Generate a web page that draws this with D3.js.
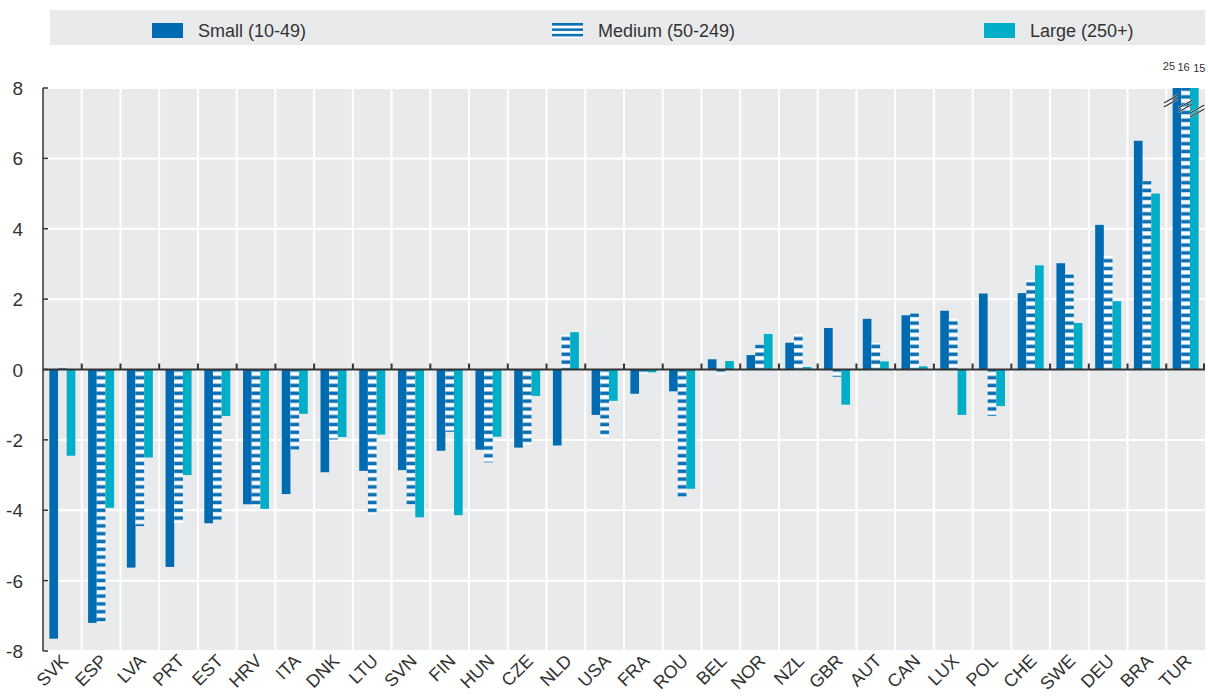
<!DOCTYPE html>
<html>
<head>
<meta charset="utf-8">
<script src="https://cdn.jsdelivr.net/npm/d3@7"></script>
<style>
  body { margin: 0; background: #fff; }
  svg { display: block; font-family: "Liberation Sans Narrow", "Arial Narrow", "Liberation Sans", Arial, sans-serif; }
  .y-label { fill: #333; font-size: 19px; }
  .x-label { fill: #333; font-size: 18px; }
  .legend-label { fill: #333; font-size: 18px; }
  .cut-label { fill: #333; font-size: 11px; font-family: "Liberation Sans", Arial, sans-serif; }
</style>
</head>
<body>
<svg id="chart" width="1208" height="699"></svg>
<script>
// countries, ordered as in the chart
const countries = ["SVK", "ESP", "LVA", "PRT", "EST", "HRV", "ITA", "DNK", "LTU", "SVN",
  "FIN", "HUN", "CZE", "NLD", "USA", "FRA", "ROU", "BEL", "NOR", "NZL",
  "GBR", "AUT", "CAN", "LUX", "POL", "CHE", "SWE", "DEU", "BRA", "TUR"];

const seriesNames = ["Small (10-49)", "Medium (50-249)", "Large (250+)"];

const small = [-7.65, -7.2, -5.63, -5.61, -4.37, -3.83, -3.54, -2.92, -2.88, -2.86,
  -2.31, -2.28, -2.22, -2.16, -1.29, -0.69, -0.62, 0.29, 0.41, 0.76,
  1.18, 1.44, 1.54, 1.67, 2.16, 2.17, 3.02, 4.11, 6.5, 25];
const medium = [0.1, -7.2, -4.45, -4.36, -4.27, -3.89, -2.28, -1.99, -4.11, -3.84,
  -1.77, -2.64, -2.14, 0.98, -1.93, -0.13, -3.62, -0.15, 0.71, 1.04,
  -0.21, 0.75, 1.61, 1.45, -1.32, 2.55, 2.74, 3.23, 5.36, 16];
const large = [-2.45, -3.93, -2.5, -3.0, -1.32, -3.96, -1.26, -1.92, -1.85, -4.2,
  -4.14, -1.91, -0.75, 1.06, -0.89, -0.08, -3.39, 0.24, 1.01, 0.07,
  -1.0, 0.23, 0.09, -1.29, -1.04, 2.96, 1.32, 1.94, 5.0, 15];

const yTicks = [-8, -6, -4, -2, 0, 2, 4, 6, 8];

const colors = ["#006bb0", "url(#hatch)", "#00aec7"];
const values = [small, medium, large];

const svg = d3.select("#chart");

const plotLeft = 43, plotRight = 1205, plotTop = 88, plotBottom = 651;

const x = d3.scaleBand().domain(countries).range([plotLeft, plotRight]);
const y = d3.scaleLinear().domain([-8, 8]).range([plotBottom, plotTop]);
const bw = x.bandwidth();
const xs = d3.scaleBand().domain(d3.range(3)).range([bw / 2 - 13, bw / 2 + 13]);

// hatch pattern for the medium series
const defs = svg.append("defs");
const pat = defs.append("pattern")
  .attr("id", "hatch")
  .attr("patternUnits", "userSpaceOnUse")
  .attr("width", 12).attr("height", 7.8);
pat.append("rect").attr("width", 12).attr("height", 7.8).attr("fill", "#fff");
pat.append("rect").attr("y", 1.5).attr("width", 12).attr("height", 3.6).attr("fill", "#0a6fb3");

// legend
svg.append("rect")
  .attr("x", 50).attr("y", 10).attr("width", 1155).attr("height", 35)
  .attr("fill", "#e9eaec");
const legendX = [152, 552, 984];
seriesNames.forEach((name, i) => {
  const g = svg.append("g").attr("transform", `translate(${legendX[i]},23)`);
  if (i === 1) {
    const lp = defs.append("pattern")
      .attr("id", "hatchLegend")
      .attr("patternUnits", "userSpaceOnUse")
      .attr("width", 32).attr("height", 5.4);
    lp.append("rect").attr("width", 32).attr("height", 5.4).attr("fill", "#fff");
    lp.append("rect").attr("y", 0).attr("width", 32).attr("height", 2.6).attr("fill", "#0a6fb3");
    g.append("rect").attr("width", 31).attr("height", 15).attr("fill", "url(#hatchLegend)");
  } else {
    g.append("rect").attr("width", 31).attr("height", 15).attr("fill", colors[i]);
  }
  g.append("text")
    .attr("class", "legend-label")
    .attr("x", 46).attr("y", 14)
    .text(name);
});

// plot background
svg.append("rect")
  .attr("x", plotLeft).attr("y", plotTop)
  .attr("width", plotRight - plotLeft).attr("height", plotBottom - plotTop)
  .attr("fill", "#e9eaec");

// gridlines
svg.append("g").selectAll("line")
  .data(yTicks.filter(d => d !== 0))
  .join("line")
  .attr("x1", plotLeft).attr("x2", plotRight)
  .attr("y1", d => y(d)).attr("y2", d => y(d))
  .attr("stroke", "#fff").attr("stroke-width", 2);

svg.append("g").selectAll("line")
  .data(countries.slice(1))
  .join("line")
  .attr("x1", d => x(d)).attr("x2", d => x(d))
  .attr("y1", plotTop).attr("y2", plotBottom)
  .attr("stroke", "#fff").attr("stroke-width", 2);

// bars
const bars = svg.append("g");
values.forEach((vals, s) => {
  bars.selectAll(null)
    .data(countries.map((c, i) => ({ c, v: vals[i] })))
    .join("rect")
    .attr("x", d => x(d.c) + xs(s))
    .attr("width", xs.bandwidth())
    .attr("y", d => y(Math.max(0, Math.min(8, d.v))))
    .attr("height", d => Math.abs(y(Math.min(8, d.v)) - y(0)))
    .attr("fill", colors[s]);
});

// truncated bars: break marks and value labels
const cut = countries.map((c, i) => values.map((vals, s) => ({ c, s, v: vals[i] })))
  .flat().filter(d => d.v > 8);

const breaks = svg.append("g");
const labelShift = [-8, -2, 5];
cut.forEach(d => {
  const cx = x(d.c) + xs(d.s) + xs.bandwidth() / 2 + (d.s === 0 ? -6 : d.s === 1 ? 0 : 3);
  const cy = 101 + d.s * 5;
  [-2, 2].forEach(off => {
    breaks.append("line")
      .attr("x1", cx - 7).attr("y1", cy + off + 4)
      .attr("x2", cx + 7).attr("y2", cy + off - 4)
      .attr("stroke", "#fff").attr("stroke-width", 2);
  });
  [-2, 2].forEach(off => {
    breaks.append("line")
      .attr("x1", cx - 7).attr("y1", cy + off + 4)
      .attr("x2", cx + 7).attr("y2", cy + off - 4)
      .attr("stroke", "#333").attr("stroke-width", 1.3);
  });
  svg.append("text")
    .attr("class", "cut-label")
    .attr("x", x(d.c) + xs(d.s) + xs.bandwidth() / 2 + labelShift[d.s])
    .attr("y", 70 + d.s)
    .attr("text-anchor", "middle")
    .text(d.v);
});

// zero line with ticks at category boundaries
const zero = svg.append("g");
zero.selectAll("line")
  .data(countries.slice(1).concat(["end"]))
  .join("line")
  .attr("x1", d => d === "end" ? plotRight - 1 : x(d))
  .attr("x2", d => d === "end" ? plotRight - 1 : x(d))
  .attr("y1", y(0) - 6).attr("y2", y(0))
  .attr("stroke", "#333").attr("stroke-width", 2);
zero.append("line")
  .attr("x1", plotLeft).attr("x2", plotRight)
  .attr("y1", y(0)).attr("y2", y(0))
  .attr("stroke", "#333").attr("stroke-width", 2.2);

// y axis line with small inward ticks
svg.append("line")
  .attr("x1", plotLeft).attr("x2", plotLeft)
  .attr("y1", plotTop).attr("y2", plotBottom)
  .attr("stroke", "#333").attr("stroke-width", 1.5);
svg.append("g").selectAll("line")
  .data(yTicks)
  .join("line")
  .attr("x1", plotLeft).attr("x2", plotLeft + 5)
  .attr("y1", d => y(d)).attr("y2", d => y(d))
  .attr("stroke", "#333").attr("stroke-width", 1.5);

svg.append("g").selectAll("text")
  .data(yTicks)
  .join("text")
  .attr("class", "y-label")
  .attr("x", 23).attr("y", d => y(d) + 7)
  .attr("text-anchor", "end")
  .text(d => d);

// x labels
svg.append("g").selectAll("text")
  .data(countries)
  .join("text")
  .attr("class", "x-label")
  .attr("transform", d => `translate(${x(d) + bw / 2 + 7},${662}) rotate(-45)`)
  .attr("text-anchor", "end")
  .text(d => d);
</script>
</body>
</html>
